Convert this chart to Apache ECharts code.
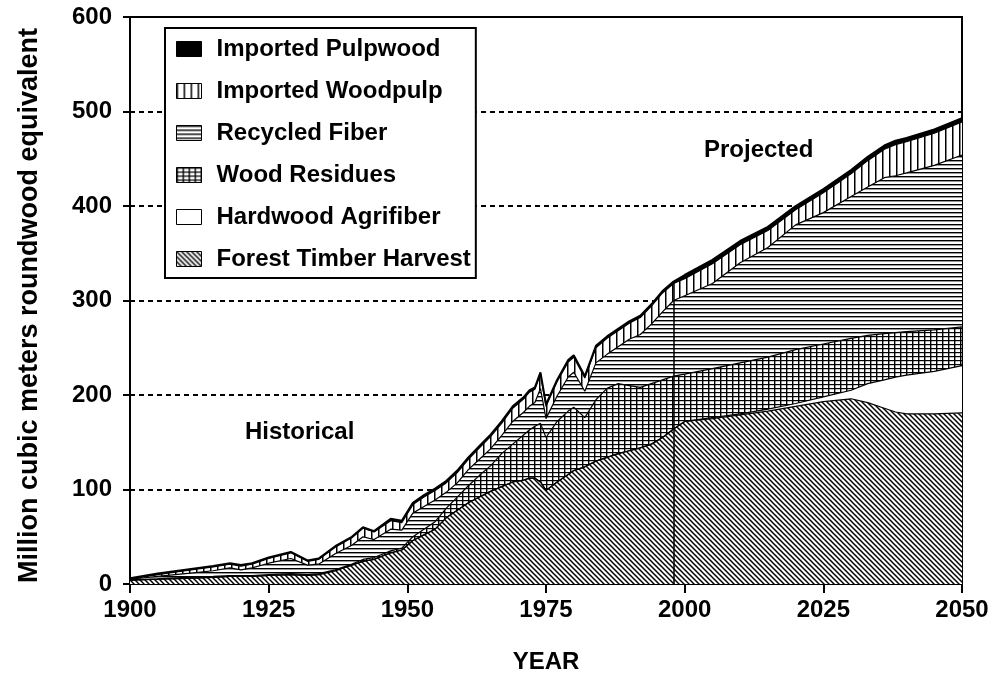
<!DOCTYPE html>
<html>
<head>
<meta charset="utf-8">
<script src="https://cdn.jsdelivr.net/npm/echarts@6/dist/echarts.min.js"></script>
<style>
html,body{margin:0;padding:0;background:#fff}
#chart{width:1008px;height:674px}
</style>
</head>
<body>
<div id="chart"></div>
<script>
// sample years (historical to 1998, projected after)
const years=[1900,1905,1910,1915,1918,1920,1922,1925,1929,1932,1934,1937,1940,1942,1944,1947,1949,1951,1953,1955,1957,1959,1961,1963,1965,1967,1969,1971,1972,1973,1974,1975,1977,1979,1980,1982,1984,1986,1988,1990,1992,1994,1996,1998,2000,2005,2010,2015,2020,2025,2030,2033,2036,2038,2040,2045,2050];
// layer thickness, million m3 roundwood equivalent
const forestHarvest=[4,5,6,7,8,8,8,9,10,9,10,14,20,24,26,33,36,46,52,58,70,78,86,92,98,103,108,110,112,112,108,99,108,116,120,124,130,134,138,141,144,148,155,164,172,175,179,183,188,193,196,192,186,182,180,180,181];
const hardwoodAgri=[0,0,0,0,0,0,0,0,0,0,0,0,0,0,0,0,0,0,0,0,0,0,0,0,0,0,0,0,0,0,0,0,0,0,0,0,0,0,0,0,0,0,0,0,0,1,1,2,3,5,9,20,30,37,41,45,50];
const woodResidues=[0.5,0.5,1,1,1,1,1,1,1,1,1,1,1,2,2,2,2,4,6,8,10,14,18,23,27,35,40,48,51,55,62,56,64,67,67,52,65,73,74,69,64,64,61,56,50,52,54,55,57,56,55,51,49,47,46,44,41];
const recycledFiber=[0.5,2.5,4,6,8,6,8,12,16,10,10,17,20,24,19,23,19,25,24,23,17,15,17,17,18,19,24,24,25,25,37,20,27,36,37,28,39,36,39,49,56,63,72,80,83,90,106,116,132,139,150,157,165,166,168,174,182];
const importedWoodpulp=[0.5,2,3,4,4,4,4,5,6,4,5,7,8,9,8,9,8,9,10,10,10,11,11,12,13,13,14,14,15,14,15,13,15,16,16,14,16,17,17,17,18,19,20,18,18,21,19,18,16,21,24,28,30,33,33,34,35];
const importedPulpwood=[0.5,1,1,1,1,1,1,1,1,1,1,1,1,1,1,2,2,2,2,2,2,2,2,2,2,2,2,2,2,2,2,2,2,2,2,2,2,2,2,2,2,2,2,2,4,4,4,4,4,4,4,4,4,4,4,4,4];
const boundaryYear=1998;

const FONT="'Liberation Sans', Arial, Helvetica, sans-serif";

function tile(w,h,draw){
 let c=document.createElement('canvas');
 c.width=w;c.height=h;
 let g=c.getContext('2d');
 g.fillStyle='#fff';g.fillRect(0,0,w,h);
 g.strokeStyle='#000';g.fillStyle='#000';
 draw(g);
 return {image:c,repeat:'repeat'};
}
const diag=tile(5,5,g=>{
 g.lineWidth=1.5;
 for(let k=-5;k<=5;k+=5){g.beginPath();g.moveTo(k-1,-1);g.lineTo(k+6,6);g.stroke();}
});
const horiz=tile(6,4,g=>{g.fillRect(0,0,6,1.4)});
const vert=tile(7,6,g=>{g.fillRect(0,0,1.5,6)});
const grid=tile(6,4,g=>{g.fillRect(0,0,6,1.2);g.fillRect(0,0,1.4,4)});

// value first so that the stack runs on y (stacked by index, years are shared)
function layer(name,vals,fill){
 return {
  name:name,type:'line',stack:'total',symbol:'none',silent:true,
  encode:{x:1,y:0},
  data:years.map((y,i)=>[vals[i],y]),
  lineStyle:{color:'#000',width:1.2},
  itemStyle:{color:fill},
  areaStyle:{color:fill,opacity:1},
  emphasis:{disabled:true}
 };
}

let boundaryIdx=years.indexOf(boundaryYear);
let boundaryTop=[forestHarvest,hardwoodAgri,woodResidues,recycledFiber,importedWoodpulp,importedPulpwood]
 .reduce((s,a)=>s+a[boundaryIdx],0);

let series=[
 layer('Forest Timber Harvest',forestHarvest,diag),
 layer('Hardwood Agrifiber',hardwoodAgri,'#fff'),
 layer('Wood Residues',woodResidues,grid),
 layer('Recycled Fiber',recycledFiber,horiz),
 layer('Imported Woodpulp',importedWoodpulp,vert),
 layer('Imported Pulpwood',importedPulpwood,'#000')
];
series[5].lineStyle={color:'#000',width:2};
series[5].markLine={
 silent:true,symbol:'none',label:{show:false},
 lineStyle:{color:'#000',width:1.5,type:'solid'},
 data:[[{coord:[boundaryYear,0]},{coord:[boundaryYear,boundaryTop]}]]
};

let chart=echarts.init(document.getElementById('chart'));
chart.setOption({
 animation:false,
 backgroundColor:'#fff',
 textStyle:{fontFamily:FONT},
 grid:{left:130,right:46,top:17,bottom:90,outerBoundsMode:'none',show:true,borderColor:'#000',borderWidth:2,backgroundColor:'transparent'},
 legend:{
  orient:'vertical',left:165,top:28,
  padding:[9,5,7,11],itemGap:18,itemWidth:25,itemHeight:15,
  icon:'rect',backgroundColor:'#fff',borderColor:'#000',borderWidth:2,
  textStyle:{fontSize:24,fontWeight:'bold',color:'#000',fontFamily:FONT,padding:[0,0,0,10]},
  data:[
   {name:'Imported Pulpwood',itemStyle:{color:'#000',borderColor:'#000',borderWidth:1}},
   {name:'Imported Woodpulp',itemStyle:{color:vert,borderColor:'#000',borderWidth:1}},
   {name:'Recycled Fiber',itemStyle:{color:horiz,borderColor:'#000',borderWidth:1}},
   {name:'Wood Residues',itemStyle:{color:grid,borderColor:'#000',borderWidth:1}},
   {name:'Hardwood Agrifiber',itemStyle:{color:'#fff',borderColor:'#000',borderWidth:1}},
   {name:'Forest Timber Harvest',itemStyle:{color:diag,borderColor:'#000',borderWidth:1}}
  ]
 },
 xAxis:{
  type:'value',min:1900,max:2050,interval:25,
  name:'YEAR',nameLocation:'middle',nameGap:66,
  nameTextStyle:{fontSize:24,fontWeight:'bold',color:'#000'},
  axisLine:{show:true,lineStyle:{color:'#000',width:2}},
  axisTick:{show:true,length:9,lineStyle:{color:'#000',width:2}},
  axisLabel:{fontSize:24,fontWeight:'bold',color:'#000',margin:14,formatter:v=>String(v)},
  splitLine:{show:false}
 },
 yAxis:{
  type:'value',min:0,max:600,interval:100,
  name:'Million cubic meters roundwood equivalent',nameLocation:'middle',nameGap:87,
  nameTextStyle:{fontSize:27,fontWeight:'bold',color:'#000',padding:[0,10,0,0]},
  axisLine:{show:true,lineStyle:{color:'#000',width:2}},
  axisTick:{show:true,length:7,lineStyle:{color:'#000',width:2}},
  axisLabel:{fontSize:24,fontWeight:'bold',color:'#000',margin:18},
  splitLine:{show:true,lineStyle:{color:'#000',width:2,type:[5,4]}}
 },
 graphic:[
  {type:'text',left:245,top:420,style:{text:'Historical',font:'bold 24px '+FONT,fill:'#000'}},
  {type:'text',left:704,top:138,style:{text:'Projected',font:'bold 24px '+FONT,fill:'#000'}}
 ],
 series:series
});
</script>
</body>
</html>
